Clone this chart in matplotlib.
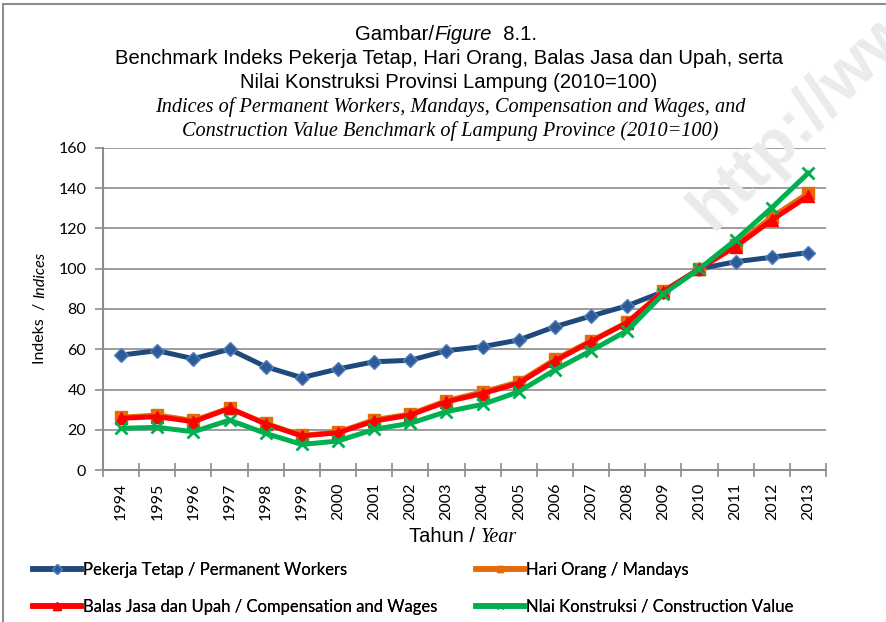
import matplotlib
matplotlib.use("Agg")
import matplotlib.pyplot as plt
from matplotlib.lines import Line2D
from matplotlib.patches import Rectangle

# Index values, 2010 = 100
years = [str(y) for y in range(1994, 2014)]
permanent_workers = [57.1, 59.3, 55.3, 60.0, 51.3, 45.9, 50.2, 53.8, 54.5, 59.3,
                     61.3, 64.6, 71.2, 76.5, 81.6, 88.6, 100.0, 103.5, 105.7, 108.0]
mandays = [26.2, 27.3, 24.6, 30.8, 23.2, 17.2, 18.8, 25.0, 27.8, 34.5,
           38.8, 43.8, 55.0, 64.2, 73.4, 88.8, 100.0, 111.8, 125.8, 137.5]
compensation = [25.7, 26.5, 24.0, 30.6, 22.9, 16.9, 18.5, 24.3, 27.3, 33.9,
                38.0, 43.1, 54.2, 63.8, 73.2, 88.6, 100.0, 111.0, 124.2, 136.0]
construction = [20.7, 21.2, 19.0, 24.8, 18.2, 12.7, 14.4, 20.2, 23.2, 29.0,
                32.6, 38.9, 49.7, 59.3, 69.2, 87.5, 100.0, 114.3, 130.3, 147.4]

labels = ["Pekerja Tetap / Permanent Workers",
          "Hari Orang / Mandays",
          "Balas Jasa dan Upah / Compensation and Wages",
          "Nlai Konstruksi / Construction Value"]

SANS = "Liberation Sans"
SERIF = "Liberation Serif"
BODY = "Lato"
GREY = "#8c8c8c"

fig = plt.figure(figsize=(8.86, 6.22), dpi=100)
W, H = 886, 622

# outer frame
fig.patches.append(Rectangle((3 / W, -0.1), 1.2, (622 - 4) / H + 0.1,
                             transform=fig.transFigure, fill=False,
                             edgecolor=GREY, linewidth=1.5, zorder=0))

# faint watermark
fig.text(712, H - 232, "http://www", rotation=45, rotation_mode="anchor",
         fontsize=48, fontweight="bold", color="#ebebeb", family=SANS,
         ha="left", va="baseline", transform=None, zorder=0)

ax = fig.add_axes([103 / W, (H - 470) / H, (826 - 103) / W, (470 - 148) / H])
ax.set_facecolor("none")
x = list(range(len(years)))

ax.plot(x, permanent_workers, color="#1F497D", lw=3.6, marker="D", ms=7,
        mfc="#2F5A97", mec="#4F81BD", mew=1, zorder=3)
ax.plot(x, mandays, color="#E36C09", lw=3.6, marker="s", ms=8,
        mfc="#E36C09", mec="#E36C09", zorder=4)
ax.plot(x, compensation, color="#FF0000", lw=3.6, marker="^", ms=9,
        mfc="#FF0000", mec="#FF0000", zorder=5)
ax.plot(x, construction, color="#00B050", lw=3.6, marker="x", ms=9,
        mew=2, mec="#00B050", zorder=6)

ax.set_xlim(-0.5, len(years) - 0.5)
ax.set_ylim(0, 160)
ax.set_yticks(range(0, 161, 20))
ax.set_xticks([i - 0.5 for i in range(len(years) + 1)], minor=False)
ax.set_xticklabels([])
ax.set_xticks(x, minor=True)
ax.set_xticklabels(years, minor=True, rotation=90, fontsize=11.5, family=BODY)
ax.tick_params(axis="x", which="major", length=10, width=1.2, color=GREY,
               direction="inout")
ax.tick_params(axis="x", which="minor", length=0, pad=9)
ax.tick_params(axis="y", length=6, width=1.2, color=GREY, labelsize=11.5,
               pad=6)
for lab in ax.get_yticklabels():
    lab.set_family(BODY)
ax.grid(axis="y", color=GREY, lw=1.2)
ax.set_axisbelow(True)
for side in ("top", "right"):
    ax.spines[side].set_visible(False)
for side in ("left", "bottom"):
    ax.spines[side].set_color(GREY)
    ax.spines[side].set_linewidth(1.5)


def rich_line(cx, cy, pieces, rotation=0):
    """Place a run of differently styled text pieces centred on (cx, cy) px."""
    renderer = fig.canvas.get_renderer()
    texts = []
    for s, kw in pieces:
        t = fig.text(0, 0, s, rotation=rotation, ha="left", va="center",
                     transform=None, **kw)
        texts.append(t)
    sizes = []
    for t in texts:
        bb = t.get_window_extent(renderer)
        sizes.append(bb.width if rotation == 0 else bb.height)
    pos = -sum(sizes) / 2
    for t, s in zip(texts, sizes):
        if rotation == 0:
            t.set_position((cx + pos, H - cy))
        else:
            t.set_position((cx, H - cy + pos))
            t.set_va("bottom")
            t.set_ha("center")
        pos += s


fig.canvas.draw()
tsz = 14.6
rich_line(446, 35, [("Gambar/", dict(family=SANS, fontsize=tsz)),
                    ("Figure", dict(family=SANS, fontsize=tsz, style="italic")),
                    ("  8.1.", dict(family=SANS, fontsize=tsz))])
fig.text(449 / W, 1 - 59 / H,
         "Benchmark Indeks Pekerja Tetap, Hari Orang, Balas Jasa dan Upah, serta",
         family=SANS, fontsize=tsz, ha="center", va="center")
fig.text(449 / W, 1 - 83 / H, "Nilai Konstruksi Provinsi Lampung (2010=100)",
         family=SANS, fontsize=tsz, ha="center", va="center")
fig.text(450 / W, 1 - 107 / H,
         "Indices of Permanent Workers, Mandays, Compensation and Wages, and",
         family=SERIF, style="italic", fontsize=tsz, ha="center", va="center")
fig.text(450 / W, 1 - 131 / H,
         "Construction Value Benchmark of Lampung Province (2010=100)",
         family=SERIF, style="italic", fontsize=tsz, ha="center", va="center")

rich_line(463, 537, [("Tahun / ", dict(family=SANS, fontsize=14.5)),
                     ("Year", dict(family=SERIF, style="italic", fontsize=14.5))])
rich_line(40, 308, [("Indeks  / ", dict(family=BODY, fontsize=11.5)),
                    ("Indices", dict(family=BODY, style="italic", fontsize=11.5))],
          rotation=90)

handles = [
    Line2D([], [], color="#1F497D", lw=4, marker="D", ms=5, mfc="#2F5A97",
           mec="#4F81BD"),
    Line2D([], [], color="#E36C09", lw=4, marker="s", ms=5, mfc="#E36C09",
           mec="#E36C09"),
    Line2D([], [], color="#FF0000", lw=4, marker="^", ms=6, mfc="#FF0000",
           mec="#FF0000"),
    Line2D([], [], color="#00B050", lw=4, marker="x", ms=5, mec="#00B050"),
]
# one legend per entry, laid out in two rows of two
spots = [(33, 570), (476, 570), (33, 607), (476, 607)]
for h, lab, (lx, ly) in zip(handles, labels, spots):
    leg = fig.legend([h], [lab], loc="center left",
                     bbox_to_anchor=(lx / W, 1 - ly / H), frameon=False,
                     prop=dict(family=BODY, size=12), handlelength=2.85,
                     handletextpad=0.15, borderpad=0, borderaxespad=0,
                     numpoints=1)
    fig.add_artist(leg)

fig.savefig("out.png", dpi=100)
